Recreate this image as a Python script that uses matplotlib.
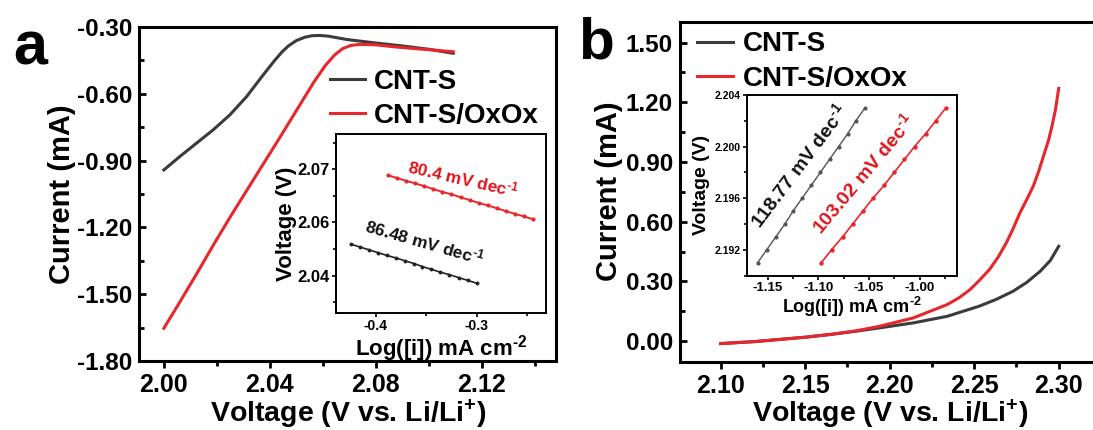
import numpy as np
import matplotlib
matplotlib.use("Agg")
import matplotlib.pyplot as plt
from matplotlib.ticker import MultipleLocator, FixedLocator, FormatStrFormatter

plt.rcParams['font.family'] = ['Liberation Sans', 'DejaVu Sans']
plt.rcParams['font.weight'] = 'bold'
plt.rcParams['axes.labelweight'] = 'bold'
plt.rcParams['axes.unicode_minus'] = False
plt.rcParams['mathtext.fontset'] = 'custom'
plt.rcParams['mathtext.rm'] = 'Liberation Sans:bold'
plt.rcParams['mathtext.default'] = 'rm'

BLACK = '#3b3b3b'
RED = '#e8262b'
RED_TXT = '#e0141b'

# --- (a) LSV, reduction side ---
a_v_cnt = [2.000, 2.006, 2.0123, 2.0186, 2.0249, 2.0312, 2.0375, 2.0415, 2.0445,
           2.0470, 2.0500, 2.0532, 2.0560, 2.0588, 2.0620, 2.069, 2.080, 2.090,
           2.100, 2.1092]
a_i_cnt = [-0.942, -0.882, -0.822, -0.762, -0.695, -0.613, -0.515, -0.455, -0.413,
           -0.385, -0.361, -0.346, -0.339, -0.338, -0.341, -0.356, -0.372, -0.385,
           -0.400, -0.418]
a_v_ox = [2.000, 2.0063, 2.0126, 2.0189, 2.0252, 2.0315, 2.0378, 2.0441, 2.0504,
          2.0567, 2.0610, 2.0645, 2.0675, 2.0705, 2.0740, 2.080, 2.0878, 2.100,
          2.1092]
a_i_ox = [-1.653, -1.530, -1.404, -1.275, -1.150, -1.030, -0.910, -0.790, -0.668,
          -0.546, -0.472, -0.425, -0.397, -0.383, -0.378, -0.380, -0.390, -0.402,
          -0.411]

# Tafel inset (a)
ta_log_cnt = [-0.425, -0.416, -0.407, -0.398, -0.389, -0.380, -0.371, -0.362,
              -0.354, -0.345, -0.336, -0.327, -0.318, -0.309, -0.300]
ta_v_cnt = [2.0489, 2.0481, 2.0473, 2.0465, 2.0457, 2.0450, 2.0442, 2.0434,
            2.0426, 2.0418, 2.0410, 2.0403, 2.0395, 2.0387, 2.0379]
ta_log_ox = [-0.388, -0.379, -0.370, -0.361, -0.352, -0.343, -0.334, -0.325, -0.316,
             -0.307, -0.298, -0.289, -0.280, -0.271, -0.262, -0.253, -0.244]
ta_v_ox = [2.0683, 2.0675, 2.0667, 2.0660, 2.0652, 2.0644, 2.0636, 2.0629, 2.0621,
           2.0613, 2.0605, 2.0598, 2.0590, 2.0582, 2.0574, 2.0567, 2.0559]
ta_yticks = [2.040, 2.055, 2.070]
ta_yticklabels = ['2.04', '2.06', '2.07']
slope_a = [r'86.48 mV dec$^{\text{-}1}$', r'80.4 mV dec$^{\text{-}1}$']

# --- (b) LSV, oxidation side ---
b_v_cnt = [2.100, 2.120, 2.135, 2.150, 2.165, 2.180, 2.194, 2.214, 2.234, 2.253,
           2.263, 2.273, 2.281, 2.289, 2.295, 2.300]
b_i_cnt = [-0.012, -0.002, 0.009, 0.020, 0.034, 0.050, 0.067, 0.092, 0.125, 0.176,
           0.210, 0.251, 0.295, 0.351, 0.405, 0.477]
b_v_ox = [2.100, 2.120, 2.135, 2.150, 2.165, 2.180, 2.194, 2.214, 2.234, 2.241,
          2.2475, 2.253, 2.259, 2.264, 2.269, 2.273, 2.277, 2.281, 2.285, 2.288,
          2.291, 2.294, 2.296, 2.298, 2.300]
b_i_ox = [-0.012, -0.002, 0.009, 0.020, 0.034, 0.052, 0.075, 0.117, 0.184, 0.218,
          0.259, 0.305, 0.360, 0.420, 0.494, 0.565, 0.644, 0.710, 0.780, 0.850,
          0.930, 1.010, 1.080, 1.160, 1.270]

# Tafel inset (b)
tb_log_cnt = [-1.160, -1.151, -1.142, -1.133, -1.125, -1.116, -1.107, -1.098,
              -1.089, -1.080, -1.071, -1.063, -1.054]
tb_v_cnt = [2.191, 2.192, 2.193, 2.194, 2.195, 2.196, 2.197, 2.198, 2.199,
            2.200, 2.201, 2.202, 2.203]
tb_log_ox = [-1.097, -1.087, -1.076, -1.066, -1.056, -1.046, -1.035, -1.025,
             -1.015, -1.005, -0.994, -0.984, -0.974]
tb_v_ox = [2.191, 2.192, 2.193, 2.194, 2.195, 2.196, 2.197, 2.198, 2.199,
           2.200, 2.201, 2.202, 2.203]
slope_b = [r'118.77 mV dec$^{\text{-}1}$', r'103.02 mV dec$^{\text{-}1}$']

labels = ['CNT-S', 'CNT-S/OxOx']
tafel_xlabel = r'Log([i]) mA cm$^{\text{-}2}$'


def style_main(ax):
    for s in ax.spines.values():
        s.set_linewidth(2.2)
    ax.tick_params(axis='y', which='both', direction='in', width=2, labelsize=17.5, pad=5)
    ax.tick_params(axis='x', which='both', direction='out', width=2, labelsize=18, pad=4)
    ax.tick_params(which='major', length=5)
    ax.tick_params(which='minor', length=3.5)


def style_inset(ax, xsize, ysize):
    for s in ax.spines.values():
        s.set_linewidth(1.4)
    ax.tick_params(which='both', direction='out', width=1.2)
    ax.tick_params(which='major', length=3)
    ax.tick_params(which='minor', length=2)
    ax.tick_params(axis='x', labelsize=xsize, pad=1.5)
    ax.tick_params(axis='y', labelsize=ysize, pad=1.5)


fig = plt.figure(figsize=(10.93, 4.30), dpi=100)

# panel a
ax1 = fig.add_axes([0.1276, 0.1605, 0.3811, 0.7767])
ax1.plot(a_v_cnt, a_i_cnt, color=BLACK, lw=2.2, label=labels[0], solid_joinstyle='round')
ax1.plot(a_v_ox, a_i_ox, color=RED, lw=2.2, label=labels[1], solid_joinstyle='round')
ax1.set_xlim(1.9908, 2.148)
ax1.set_ylim(-1.80, -0.30)
ax1.set_xticks([2.00, 2.04, 2.08, 2.12])
ax1.xaxis.set_minor_locator(MultipleLocator(0.02))
ax1.set_yticks(np.arange(-1.80, -0.29, 0.30))
ax1.yaxis.set_minor_locator(MultipleLocator(0.15))
ax1.yaxis.set_major_formatter(FormatStrFormatter('%.2f'))
style_main(ax1)
ax1.set_xlabel('Voltage (V vs. Li/Li$^{+}$)', fontsize=20.5, labelpad=0)
ax1.set_ylabel('Current (mA)', fontsize=21, labelpad=1)
ax1.legend(loc='upper left', bbox_to_anchor=(0.457, 0.875), frameon=False,
           fontsize=20, handlelength=1.25, handletextpad=0.35, borderpad=0,
           borderaxespad=0, labelspacing=0.3)

ins1 = fig.add_axes([0.3074, 0.2728, 0.1921, 0.4156])
ins1.plot(ta_log_cnt, ta_v_cnt, color='#222222', lw=1.2, marker='o', ms=1.8)
ins1.plot(ta_log_ox, ta_v_ox, color=RED, lw=1.4, marker='o', ms=2.0)
ins1.set_xlim(-0.4397, -0.2312)
ins1.set_ylim(2.0296, 2.0799)
ins1.set_xticks([-0.4, -0.3])
ins1.xaxis.set_minor_locator(MultipleLocator(0.05))
ins1.yaxis.set_major_locator(FixedLocator(ta_yticks))
ins1.set_yticklabels(ta_yticklabels)
ins1.yaxis.set_minor_locator(FixedLocator([2.0325, 2.0475, 2.0625, 2.0775]))
style_inset(ins1, 10, 12)
ins1.set_xlabel(tafel_xlabel, fontsize=16, labelpad=0)
ins1.set_ylabel('Voltage (V)', fontsize=16, labelpad=0)
ins1.text(-0.3136, 2.0675, slope_a[1], color=RED_TXT, fontsize=12.5,
          rotation=-13, ha='center', va='center', rotation_mode='anchor')
ins1.text(-0.3513, 2.0495, slope_a[0], color='#111111', fontsize=12.5,
          rotation=-16, ha='center', va='center', rotation_mode='anchor')

# panel b
ax2 = fig.add_axes([0.6221, 0.1593, 0.3852, 0.7902])
ax2.plot(b_v_cnt, b_i_cnt, color=BLACK, lw=2.2, label=labels[0], solid_joinstyle='round')
ax2.plot(b_v_ox, b_i_ox, color=RED, lw=2.2, label=labels[1], solid_joinstyle='round')
ax2.set_xlim(2.0759, 2.325)
ax2.set_ylim(-0.102, 1.605)
ax2.set_xticks([2.10, 2.15, 2.20, 2.25, 2.30])
ax2.xaxis.set_minor_locator(MultipleLocator(0.025))
ax2.set_yticks(np.arange(0.0, 1.51, 0.30))
ax2.yaxis.set_minor_locator(MultipleLocator(0.15))
ax2.yaxis.set_major_formatter(FormatStrFormatter('%.2f'))
ax2.xaxis.set_major_formatter(FormatStrFormatter('%.2f'))
style_main(ax2)
ax2.set_xlabel('Voltage (V vs. Li/Li$^{+}$)', fontsize=20.5, labelpad=0)
ax2.set_ylabel('Current (mA)', fontsize=21, labelpad=2)
ax2.legend(loc='upper left', bbox_to_anchor=(0.040, 0.972), frameon=False,
           fontsize=20, handlelength=1.3, handletextpad=0.35, borderpad=0,
           borderaxespad=0, labelspacing=0.3)

ins2 = fig.add_axes([0.6832, 0.3593, 0.1924, 0.4198])
ins2.plot(tb_log_cnt, tb_v_cnt, color='#555555', lw=1.0, marker='o', ms=2.0)
ins2.plot(tb_log_ox, tb_v_ox, color=RED, lw=1.2, marker='o', ms=2.2)
ins2.set_xlim(-1.1708, -0.963)
ins2.set_ylim(2.190, 2.204)
ins2.set_xticks([-1.15, -1.10, -1.05, -1.00])
ins2.xaxis.set_minor_locator(MultipleLocator(0.025))
ins2.set_yticks([2.192, 2.196, 2.200, 2.204])
ins2.yaxis.set_minor_locator(MultipleLocator(0.002))
ins2.xaxis.set_major_formatter(FormatStrFormatter('%.2f'))
ins2.yaxis.set_major_formatter(FormatStrFormatter('%.3f'))
style_inset(ins2, 9.5, 7.5)
ins2.set_xlabel(tafel_xlabel, fontsize=13, labelpad=1)
ins2.set_ylabel('Voltage (V)', fontsize=14, labelpad=3)
ins2.text(-1.1193, 2.1985, slope_b[0], color='#111111', fontsize=14,
          rotation=53, ha='center', va='center', rotation_mode='anchor')
ins2.text(-1.056, 2.1979, slope_b[1], color=RED_TXT, fontsize=14,
          rotation=50, ha='center', va='center', rotation_mode='anchor')

fig.text(0.012, 0.849, 'a', fontsize=44, fontweight='bold')
fig.text(0.529, 0.865, 'b', fontsize=42, fontweight='bold')

fig.savefig('out.png', dpi=100)
